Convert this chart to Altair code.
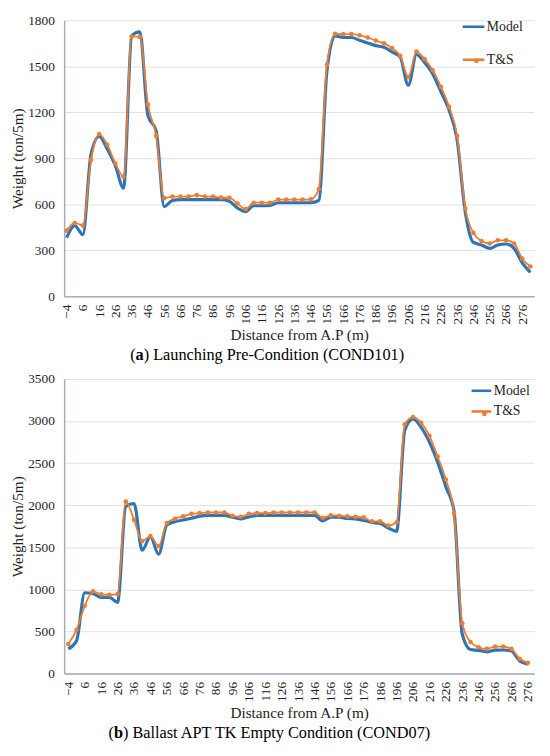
import altair as alt
import pandas as pd

# ---------------- data ----------------
series_names = ["Model", "T&S"]
series_colors = ["#2E75B6", "#ED7D31"]

dist_a = list(range(-4, 282, 5))
model_a = [382, 460, 402, 925, 1042, 960, 850, 705, 1700, 1725, 1178, 1080, 585, 625, 630,
           630, 630, 630, 630, 630, 620, 575, 552, 590, 590, 592, 610, 610, 610, 610, 610,
           625, 1470, 1698, 1688, 1688, 1670, 1652, 1635, 1625, 1594, 1560, 1377, 1577, 1525,
           1450, 1335, 1215, 1020, 548, 351, 334, 312, 334, 341, 312, 217, 155]
ts_a = [428, 478, 462, 888, 1058, 988, 866, 780, 1695, 1692, 1250, 1048, 640, 650, 650,
        650, 660, 650, 650, 643, 642, 605, 568, 610, 610, 610, 630, 630, 630, 630, 632,
        700, 1510, 1712, 1710, 1710, 1703, 1688, 1668, 1650, 1619, 1568, 1430, 1596, 1547,
        1474, 1366, 1237, 1045, 574, 413, 360, 344, 365, 365, 344, 245, 194]

dist_b = list(range(-4, 277, 5))
model_b = [293, 390, 960, 950, 905, 905, 845, 1985, 2020, 1465, 1625, 1418, 1765, 1805, 1825,
           1845, 1870, 1880, 1880, 1880, 1858, 1838, 1862, 1878, 1880, 1880, 1880, 1880, 1880,
           1880, 1880, 1815, 1859, 1858, 1842, 1838, 1820, 1795, 1782, 1730, 1690, 2890, 3025,
           2925, 2750, 2512, 2220, 1930, 470, 285, 275, 258, 278, 280, 268, 150, 112]
ts_b = [352, 519, 805, 977, 941, 937, 945, 2043, 1828, 1574, 1633, 1515, 1789, 1840, 1867,
        1898, 1906, 1914, 1914, 1914, 1875, 1863, 1898, 1906, 1906, 1914, 1914, 1914, 1914,
        1914, 1914, 1851, 1879, 1875, 1867, 1863, 1855, 1808, 1808, 1758, 1797, 2961, 3047,
        2980, 2824, 2578, 2305, 1898, 598, 375, 312, 293, 320, 320, 293, 176, 129]

x_ticks = list(range(-4, 277, 10))
y_ticks_a = [0, 300, 600, 900, 1200, 1500, 1800]
y_ticks_b = [0, 500, 1000, 1500, 2000, 2500, 3000, 3500]

x_title = "Distance from A.P (m)"
y_title = "Weight (ton/5m)"
caption_a = ["(", "a", ") Launching Pre-Condition (COND101)"]
caption_b = ["(", "b", ") Ballast APT TK Empty Condition (COND07)"]

SERIF = "Liberation Serif"
GFONT = "Times New Roman, Liberation Serif, serif"
TXT = "#1e1e1e"
W = 477
ORANGE = series_colors[1]


def panel(dist, model, ts, ydom, yticks, xdom, h, caption, cap_x, cap_y, bold_w,
          leg_x, leg_y, row_pad, sym_size, dot_x, dot_y):
    df = pd.DataFrame({
        "dist": dist + dist,
        "weight": model + ts,
        "series": ["Model"] * len(dist) + ["T&S"] * len(dist),
    })
    x = alt.X("dist:Q", scale=alt.Scale(domain=xdom, nice=False, zero=False),
              axis=alt.Axis(values=x_ticks, labelAngle=-90, title=x_title, grid=False,
                            ticks=False, labelPadding=8, labelFlush=False, labelOverlap=False,
                            titlePadding=4, format="d",
                            labelFont=GFONT, labelFontSize=13.5, labelColor=TXT,
                            titleFont=GFONT, titleFontSize=15.5, titleFontWeight="normal",
                            titleColor=TXT))
    y = alt.Y("weight:Q", scale=alt.Scale(domain=ydom, nice=False),
              axis=alt.Axis(values=yticks, title=y_title, grid=True, ticks=False,
                            labelPadding=10, titlePadding=2, labelOverlap=False, format="d",
                            labelFont=GFONT, labelFontSize=13.5, labelColor=TXT,
                            titleFont=GFONT, titleFontSize=15.5, titleFontWeight="normal",
                            titleColor=TXT))
    legend = alt.Legend(
        title=None, orient="none", legendX=leg_x, legendY=leg_y,
        symbolType="stroke", symbolSize=sym_size, symbolStrokeWidth=2.6,
        labelFont=GFONT, labelFontSize=14, labelColor=TXT, labelOffset=1,
        rowPadding=row_pad, padding=0,
    )
    color = alt.Color("series:N", scale=alt.Scale(domain=series_names, range=series_colors),
                      legend=legend)
    base = alt.Chart(df)
    model_line = base.transform_filter(alt.datum.series == "Model").mark_line(
        interpolate="monotone", strokeWidth=3.2).encode(x=x, y=y, color=color)
    ts_line = base.transform_filter(alt.datum.series == "T&S").mark_line(
        interpolate="monotone", strokeWidth=1.8).encode(x=x, y=y, color=color)
    dot_legend = alt.Legend(
        title=None, orient="none", legendX=dot_x, legendY=dot_y, symbolSize=24,
        symbolFillColor=ORANGE, symbolStrokeColor=ORANGE, symbolStrokeWidth=0,
        symbolType="circle", labelExpr="''", labelFontSize=14, padding=0,
    )
    ts_pts = base.transform_filter(alt.datum.series == "T&S").mark_point(
        filled=True, size=22, opacity=1, color=ORANGE).encode(
        x=x, y=y,
        shape=alt.Shape("series:N", scale=alt.Scale(domain=["T&S"], range=["circle"]),
                        legend=dot_legend))

    w_paren = 16.5 * 0.333
    texts = []
    offsets = [0, w_paren, w_paren + bold_w]
    weights = ["normal", "bold", "normal"]
    for part, off, wt in zip(caption, offsets, weights):
        texts.append(
            alt.Chart(pd.DataFrame({"t": [part]})).mark_text(
                align="left", baseline="middle", font=SERIF, fontSize=16.5,
                fontWeight=wt, color="#000000").encode(
                text="t:N", x=alt.value(cap_x + off), y=alt.value(cap_y))
        )
    return alt.layer(model_line, ts_line, ts_pts, *texts).properties(width=W, height=h)


pa = panel(dist_a, model_a, ts_a, [0, 1800], y_ticks_a, [-5.5, 283.3], 280,
           caption_a, 67, 280 + 60, 16.5 * 0.5, 403, -6, 13.5, 484, 411.5, 34)
pb = panel(dist_b, model_b, ts_b, [0, 3500], y_ticks_b, [-6.55, 279.8], 299,
           caption_b, 45, 299 + 60, 16.5 * 0.556, 412, 0.5, 2, 400, 419.5, 28.5)

chart = alt.vconcat(pa, pb, spacing=8).resolve_scale(
    x="independent", y="independent", color="independent", shape="independent"
).resolve_legend(color="independent", shape="independent").properties(
    padding={"left": 3, "top": 0, "right": 5, "bottom": 0}
).configure(font=GFONT).configure_view(stroke=None).configure_axis(
    labelFont=GFONT, labelFontSize=13.5, labelColor=TXT,
    titleFont=GFONT, titleFontSize=15.5, titleFontWeight="normal", titleColor=TXT,
    domainColor="#A3ADBD", domainWidth=1.5, gridColor="#DCE1E8", gridWidth=1,
).configure_legend(labelFont=GFONT)

chart.save("out.html", embed_options={"renderer": "svg", "actions": False})
